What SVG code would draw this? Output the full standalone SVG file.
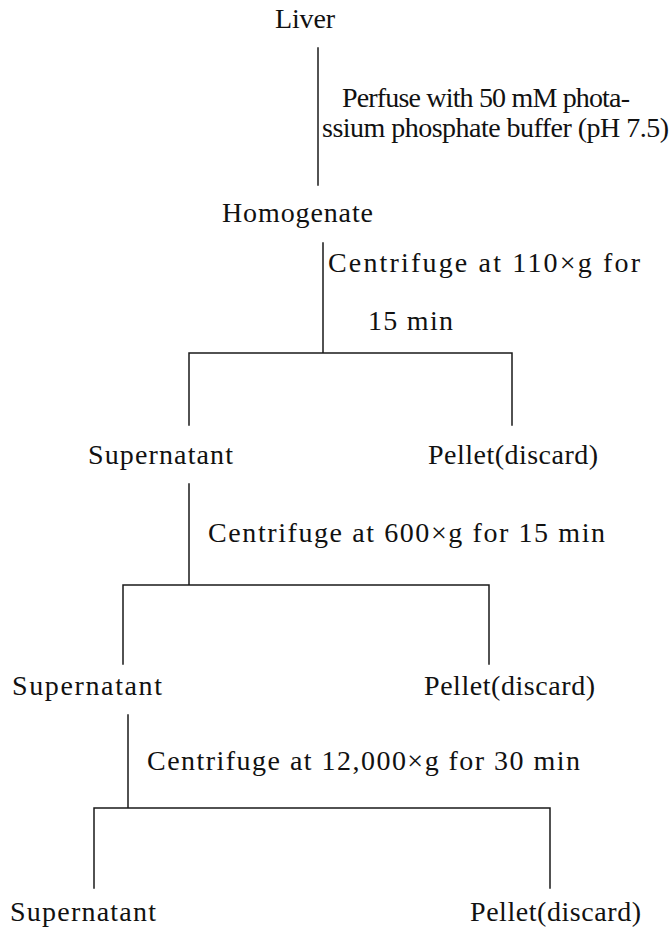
<svg xmlns="http://www.w3.org/2000/svg" width="671" height="933" viewBox="0 0 671 933">
<style>
  text { font-family: "Liberation Serif", "Times New Roman", serif; font-size: 28px; fill: #111; }
  .c { stroke: #1a1a1a; stroke-width: 1.5; fill: none; stroke-linecap: square; }
</style>
<rect width="671" height="933" fill="#ffffff"/>
<g id="connectors">
  <path class="c" d="M318 48 V185"/>
  <path class="c" d="M323 243 V353 M189 353 H512 M189 353 V425 M512 353 V425"/>
  <path class="c" d="M189 484 V585 M123 585 H489 M123 585 V664 M489 585 V664"/>
  <path class="c" d="M128 715 V808 M94 808 H550 M94 808 V888 M550 808 V888"/>
</g>
<g id="edge-labels">
  <text x="342" y="107" textLength="288" lengthAdjust="spacing">Perfuse with 50 mM phota-</text>
  <text x="322" y="137" textLength="347" lengthAdjust="spacing">ssium phosphate buffer (pH 7.5)</text>
  <text x="328" y="272" textLength="312" lengthAdjust="spacing">Centrifuge at 110×g for</text>
  <text x="368" y="330" textLength="85" lengthAdjust="spacing">15 min</text>
  <text x="208" y="542" textLength="397" lengthAdjust="spacing">Centrifuge at 600×g for 15 min</text>
  <text x="147" y="770" textLength="433" lengthAdjust="spacing">Centrifuge at 12,000×g for 30 min</text>
</g>
<g id="liver"><text x="275" y="28" textLength="60" lengthAdjust="spacing">Liver</text></g>
<g id="homogenate"><text x="222" y="222" textLength="151" lengthAdjust="spacing">Homogenate</text></g>
<g id="supernatant1"><text x="88" y="464" textLength="145" lengthAdjust="spacing">Supernatant</text></g>
<g id="pellet1"><text x="428" y="464" textLength="170" lengthAdjust="spacing">Pellet(discard)</text></g>
<g id="supernatant2"><text x="12" y="695" textLength="150" lengthAdjust="spacing">Supernatant</text></g>
<g id="pellet2"><text x="424" y="695" textLength="171" lengthAdjust="spacing">Pellet(discard)</text></g>
<g id="supernatant3"><text x="10" y="921" textLength="146" lengthAdjust="spacing">Supernatant</text></g>
<g id="pellet3"><text x="470" y="921" textLength="171" lengthAdjust="spacing">Pellet(discard)</text></g>
</svg>
